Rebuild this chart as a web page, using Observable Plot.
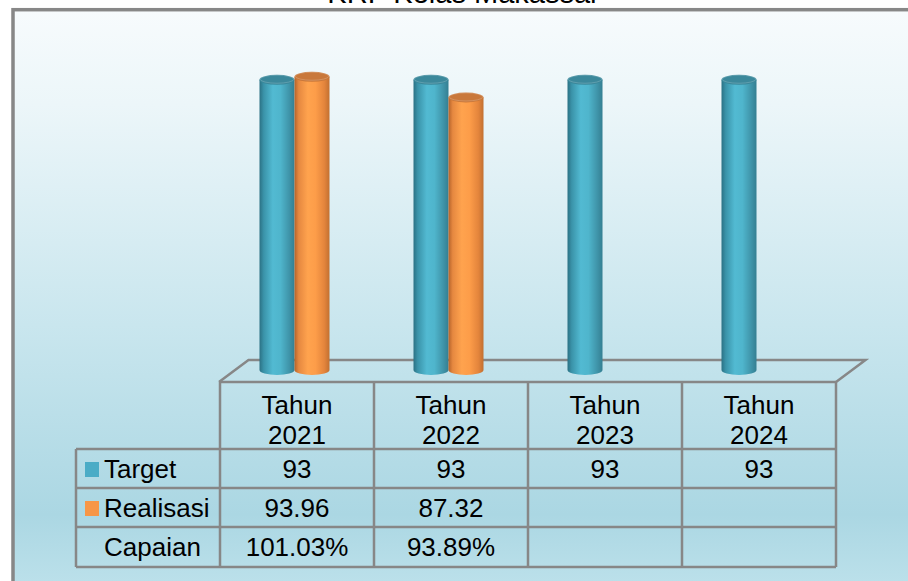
<!DOCTYPE html>
<html>
<head>
<meta charset="utf-8">
<script src="https://cdn.jsdelivr.net/npm/d3@7"></script>
<script src="https://cdn.jsdelivr.net/npm/@observablehq/plot@0.6"></script>
<style>
  html, body { margin: 0; padding: 0; background: #ffffff; overflow: hidden; }
  svg { display: block; }
</style>
</head>
<body>
<div id="chart"></div>
<script>
// ---- Data ----
const chartTitle = "KRI- Kelas Makassar";
const years = ["2021", "2022", "2023", "2024"];
const headerWord = "Tahun";
const seriesNames = ["Target", "Realisasi", "Capaian"];
const target = [93, 93, 93, 93];
const realisasi = [93.96, 87.32, null, null];
const targetLabels = ["93", "93", "93", "93"];
const realisasiLabels = ["93.96", "87.32", "", ""];
const capaianLabels = ["101.03%", "93.89%", "", ""];

const bars = [];
years.forEach((yr, i) => {
  bars.push({ year: yr, series: "Target", value: target[i] });
  if (realisasi[i] != null) bars.push({ year: yr, series: "Realisasi", value: realisasi[i] });
});

// ---- Styling ----
const W = 908, H = 581;
const FONT = "'Liberation Sans', Arial, sans-serif";
const GRID = "#878787";
const NS = "http://www.w3.org/2000/svg";
function el(tag, attrs, parent) {
  const e = document.createElementNS(NS, tag);
  for (const k in attrs) e.setAttribute(k, attrs[k]);
  if (parent) parent.appendChild(e);
  return e;
}
function txt(parent, s, attrs) {
  const t = el("text", Object.assign({ "font-family": FONT, fill: "#000", "text-anchor": "start" }, attrs), parent);
  t.textContent = s;
  return t;
}
const palette = {
  Target: {
    legend: "#4bacc6",
    top: "#3b889b",
    stops: [[0, "#2b7184"], [0.12, "#3a93a9"], [0.38, "#52bad2"], [0.6, "#4fb5cc"], [0.85, "#3f94a9"], [1, "#347f92"]]
  },
  Realisasi: {
    legend: "#f79646",
    top: "#c9783b",
    stops: [[0, "#b5632a"], [0.12, "#e58840"], [0.38, "#ffa34e"], [0.6, "#fd9d49"], [0.85, "#e4853c"], [1, "#c27031"]]
  }
};

// ---- Marks ----
const background = () => {
  const g = el("g", {});
  const defs = el("defs", {}, g);
  const bg = el("linearGradient", { id: "bgGrad", x1: 0, y1: 0, x2: 0, y2: 1 }, defs);
  [[0, "#f7fbfd"], [0.15, "#ecf6f9"], [0.5, "#c9e6ee"], [0.8, "#abd7e3"], [1, "#c9e8f0"]]
    .forEach(([o, c]) => el("stop", { offset: o, "stop-color": c }, bg));
  for (const s of Object.keys(palette)) {
    const lg = el("linearGradient", { id: "cyl" + s, x1: 0, y1: 0, x2: 1, y2: 0 }, defs);
    palette[s].stops.forEach(([o, c]) => el("stop", { offset: o, "stop-color": c }, lg));
  }
  el("rect", { x: 0, y: 0, width: W, height: H, fill: "#ffffff" }, g);
  el("rect", { x: 13, y: 9.7, width: W + 50, height: H + 50, fill: "url(#bgGrad)", stroke: "#878787", "stroke-width": 3.5 }, g);
  return g;
};

const floor = (index, scales) => {
  const g = el("g", {});
  const [x0, x1] = scales.x.range();
  const y0 = scales.y(0);
  const front = y0 + 12, back = y0 - 10, depth = 29.5;
  el("path", {
    d: `M${x0},${front}L${x0 + depth},${back}L${x1 + depth},${back}L${x1},${front}`,
    fill: "none", stroke: GRID, "stroke-width": 2.5, "stroke-linejoin": "miter"
  }, g);
  return g;
};

const cylinders = (index, scales) => {
  const g = el("g", {});
  const bw = scales.x.bandwidth();
  const rx = 17.5, ry = 5;
  const bottom = scales.y(0);
  for (const d of bars) {
    const cx = scales.x(d.year) + bw / 2 - 2.5 + (d.series === "Target" ? -rx : rx);
    const top = scales.y(d.value);
    const p = palette[d.series];
    el("path", {
      d: `M${cx - rx},${top}L${cx - rx},${bottom}A${rx},${ry} 0 0 0 ${cx + rx},${bottom}L${cx + rx},${top}Z`,
      fill: `url(#cyl${d.series})`
    }, g);
    el("ellipse", { cx, cy: top, rx, ry, fill: p.top }, g);
    el("ellipse", { cx, cy: top - 0.6, rx: rx - 0.8, ry: ry - 1, fill: "none", stroke: "rgba(255,255,255,0.18)", "stroke-width": 1 }, g);
  }
  return g;
};

const table = (index, scales) => {
  const g = el("g", {});
  const bw = scales.x.bandwidth();
  const [x0, x1] = scales.x.range();
  const yTop = scales.y(0) + 12;
  const rows = [449, 488, 527, 567];
  const leftX = 76;
  // grid
  const lines = el("g", { stroke: GRID, "stroke-width": 2.5, fill: "none" }, g);
  el("line", { x1: x0, y1: yTop, x2: x1, y2: yTop }, lines);
  rows.forEach(r => el("line", { x1: leftX, y1: r, x2: x1, y2: r }, lines));
  years.forEach(yr => el("line", { x1: scales.x(yr), y1: yTop, x2: scales.x(yr), y2: rows[3] }, lines));
  el("line", { x1: x1, y1: yTop, x2: x1, y2: rows[3] }, lines);
  el("line", { x1: leftX, y1: rows[0], x2: leftX, y2: rows[3] }, lines);
  // header + values
  const fs = 26;
  years.forEach((yr, i) => {
    const cx = scales.x(yr) + bw / 2;
    txt(g, headerWord, { x: cx, y: 414, "text-anchor": "middle", "font-size": fs });
    txt(g, yr, { x: cx, y: 444, "text-anchor": "middle", "font-size": fs });
    txt(g, targetLabels[i], { x: cx, y: 478, "text-anchor": "middle", "font-size": fs });
    txt(g, realisasiLabels[i], { x: cx, y: 517, "text-anchor": "middle", "font-size": fs });
    txt(g, capaianLabels[i], { x: cx, y: 556, "text-anchor": "middle", "font-size": fs });
  });
  // row labels with legend keys
  const baselines = [478, 517, 556];
  seriesNames.forEach((s, i) => {
    if (palette[s]) el("rect", { x: 85, y: baselines[i] - 16, width: 14, height: 15, fill: palette[s].legend }, g);
    txt(g, s, { x: 104, y: baselines[i], "text-anchor": "start", "font-size": fs });
  });
  return g;
};

const titleMark = () => {
  const g = el("g", {});
  txt(g, chartTitle, { x: 463.5, y: 3, "text-anchor": "middle", "font-size": 29 });
  return g;
};

const chart = Plot.plot({
  width: W,
  height: H,
  margin: 0,
  style: { background: "transparent", overflow: "hidden" },
  x: { type: "band", domain: years, range: [219, 836], padding: 0, axis: null },
  y: { domain: [0, 100], range: [370, 58], axis: null },
  marks: [
    background,
    floor,
    Plot.dot(bars, { x: "year", y: "value", r: 0 }),
    cylinders,
    table,
    titleMark
  ]
});
document.getElementById("chart").appendChild(chart);
</script>
</body>
</html>
